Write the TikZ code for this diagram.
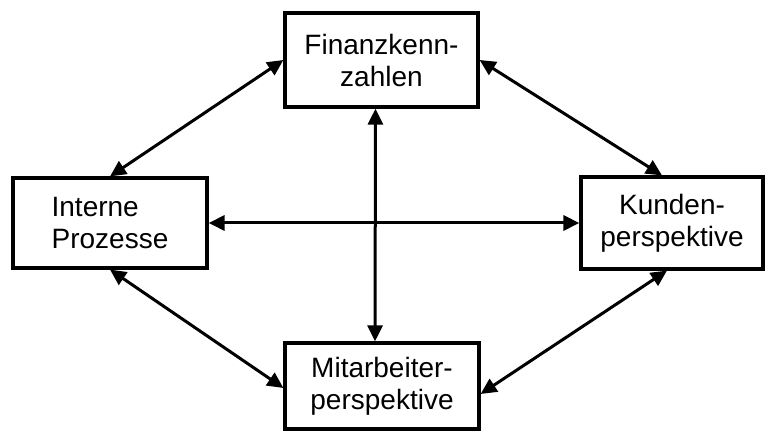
\documentclass[tikz,border=0pt]{standalone}
\usepackage{fontspec}
\setmainfont{Liberation Sans}
\usetikzlibrary{arrows.meta}
\begin{document}
\begin{tikzpicture}[x=1pt,y=1pt,
  boxnode/.style={draw=black, line width=3.2pt, fill=white, inner sep=0pt,
    font=\fontsize{28}{32}\selectfont, align=center},
  biarrow/.style={line width=3pt, {Triangle[length=16pt,width=15pt]}-{Triangle[length=16pt,width=15pt]}}]
\useasboundingbox (0,0) rectangle (766,434);
\fill[white] (0,0) rectangle (766,434);
\node[boxnode, minimum width=193, minimum height=94] (top) at (381.5,374) {Finanzkenn-\\zahlen};
\node[boxnode, minimum width=194, minimum height=90, align=left] (left) at (110,211) {Interne\\Prozesse};
\node[boxnode, minimum width=182, minimum height=92] (right) at (672,211) {Kunden-\\perspektive};
\node[boxnode, minimum width=194, minimum height=86] (bottom) at (382,48) {Mitarbeiter-\\perspektive};
\draw[biarrow] (top.west) -- (left.north);
\draw[biarrow] (top.east) -- ([xshift=-10pt]right.north);
\draw[biarrow] (left.south) -- ([yshift=-2pt]bottom.west);
\draw[biarrow] ([xshift=-5pt]right.south) -- ([yshift=-8pt]bottom.east);
\draw[biarrow] (left.east) -- (right.west);
\draw[biarrow] ([xshift=-6pt]top.south) -- ([xshift=-7pt]bottom.north);
\end{tikzpicture}
\end{document}
